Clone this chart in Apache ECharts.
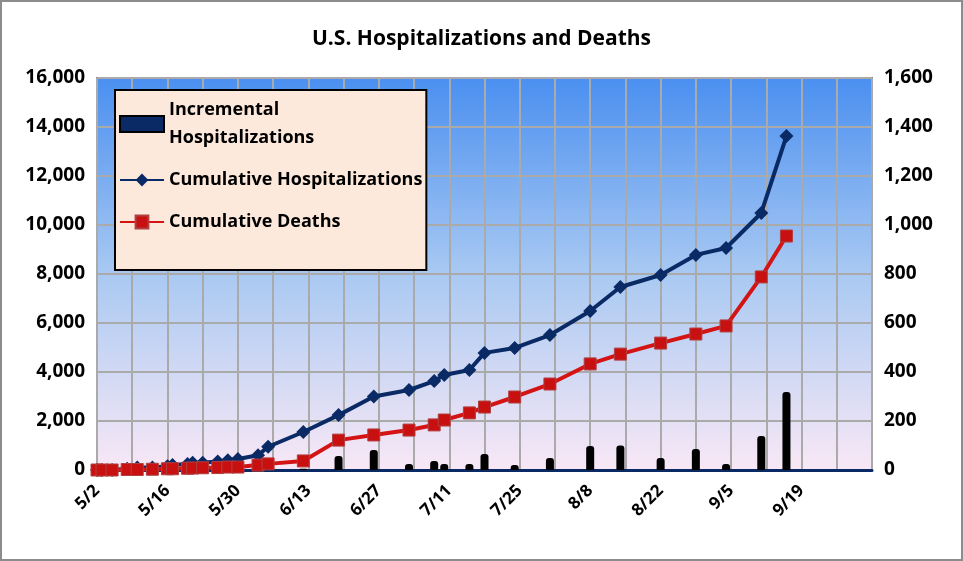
<!DOCTYPE html>
<html><head><meta charset="utf-8">
<script src="https://cdn.jsdelivr.net/npm/echarts@6/dist/echarts.min.js"></script>
<style>html,body{margin:0;padding:0;background:#fff}#chart{width:963px;height:561px;box-sizing:border-box;border:2px solid #8c8c8c}</style>
</head><body><div id="chart"></div>
<script>
// dates of each report (2020)
const dates = ['5/2','5/3','5/5','5/8','5/10','5/13','5/16','5/17','5/20','5/21','5/23','5/26','5/28','5/30',
  '6/3','6/5','6/12','6/19','6/26','7/3','7/8','7/10','7/15','7/18','7/24','7/31','8/8','8/14','8/22','8/29','9/4','9/11','9/16'];
const cumHosp = [0,0,0,50,100,100,150,200,250,300,300,350,400,450,
  600,950,1550,2240,3000,3265,3630,3880,4080,4780,4980,5510,6490,7470,7960,8780,9060,10490,13630];
const cumDeaths = [0,0,0,2,2,3,5,5,7,8,9,10,12,12,
  20,25,37,122,143,163,184,204,233,257,298,351,433,473,518,555,588,788,955];
const incHosp = [0,0,0,0,0,0,0,0,0,0,0,0,0,0,
  20,30,50,570,816,245,370,245,245,650,200,490,980,1000,490,860,245,1390,3180];

const start = new Date(2020, 4, 2);
function dayOf(s) {
  const p = s.split('/');
  return Math.round((new Date(2020, +p[0] - 1, +p[1]) - start) / 86400000);
}
function labelOf(d) {
  const t = new Date(2020, 4, 2 + d);
  return (t.getMonth() + 1) + '/' + t.getDate();
}
const days = dates.map(dayOf);
const pair = arr => days.map((d, i) => [d, arr[i]]);

const font = '"Open Sans", "DejaVu Sans", sans-serif';
const chart = echarts.init(document.getElementById('chart'));
chart.setOption({
  animation: false,
  title: {
    text: 'U.S. Hospitalizations and Deaths', left: 'center', top: 22,
    textStyle: { fontFamily: font, fontSize: 21, fontWeight: 'bold', color: '#000' }
  },
  grid: {
    left: 95, right: 89, top: 76, bottom: 89, show: true, borderColor: '#888', borderWidth: 2,
    backgroundColor: new echarts.graphic.LinearGradient(0, 0, 0, 1, [
      { offset: 0, color: '#4a8ff0' }, { offset: 0.5, color: '#a9c9f2' }, { offset: 1, color: '#f9e8f6' }
    ])
  },
  legend: {
    orient: 'vertical', left: 113, top: 88, width: 330, padding: [6, 4, 34, 4], itemGap: 14,
    backgroundColor: '#fde9dc', borderColor: '#000', borderWidth: 2,
    itemWidth: 44, itemHeight: 16,
    textStyle: { fontFamily: font, fontSize: 18, fontWeight: 'bold', color: '#000', lineHeight: 28 },
    data: [
      { name: 'Incremental\nHospitalizations', icon: 'rect', itemStyle: { color: '#0a2a66', borderColor: '#000', borderWidth: 2 } },
      { name: 'Cumulative Hospitalizations' },
      { name: 'Cumulative Deaths' }
    ]
  },
  xAxis: {
    type: 'value', min: 0, max: 154, interval: 7,
    axisLine: { show: true, lineStyle: { color: '#0a2a66', width: 3 } },
    axisTick: { show: false },
    splitLine: { show: true, lineStyle: { color: '#aaa', width: 2 } },
    axisLabel: {
      rotate: 45, margin: 18, fontFamily: font, fontSize: 17, fontWeight: 'bold', color: '#000',
      formatter: v => (v % 14 === 0 && v < 150) ? labelOf(v) : ''
    }
  },
  yAxis: [
    { type: 'value', min: 0, max: 16000, interval: 2000,
      axisLine: { show: false }, axisTick: { show: false },
      splitLine: { lineStyle: { color: '#aaa', width: 2 } },
      axisLabel: { margin: 12, fontFamily: font, fontSize: 19, fontWeight: 'bold', color: '#000',
        formatter: v => v.toLocaleString('en-US') } },
    { type: 'value', min: 0, max: 1600, interval: 200,
      axisLine: { show: false }, axisTick: { show: false }, splitLine: { show: false },
      axisLabel: { margin: 12, fontFamily: font, fontSize: 19, fontWeight: 'bold', color: '#000',
        formatter: v => v.toLocaleString('en-US') } }
  ],
  series: [
    { name: 'Incremental\nHospitalizations', type: 'bar', data: pair(incHosp), barWidth: 8,
      itemStyle: { color: '#000', borderRadius: [3, 3, 0, 0] }, z: 2 },
    { name: 'Cumulative Hospitalizations', type: 'line', data: pair(cumHosp),
      symbol: 'diamond', symbolSize: 14, lineStyle: { color: '#0a2a66', width: 4 },
      itemStyle: { color: '#0a2a66' }, z: 3 },
    { name: 'Cumulative Deaths', type: 'line', yAxisIndex: 1, data: pair(cumDeaths),
      symbol: 'rect', symbolSize: 12, lineStyle: { color: '#d41414', width: 4 },
      itemStyle: { color: '#c81010', borderColor: '#b04040', borderWidth: 1 }, z: 4 }
  ]
});
</script></body></html>
